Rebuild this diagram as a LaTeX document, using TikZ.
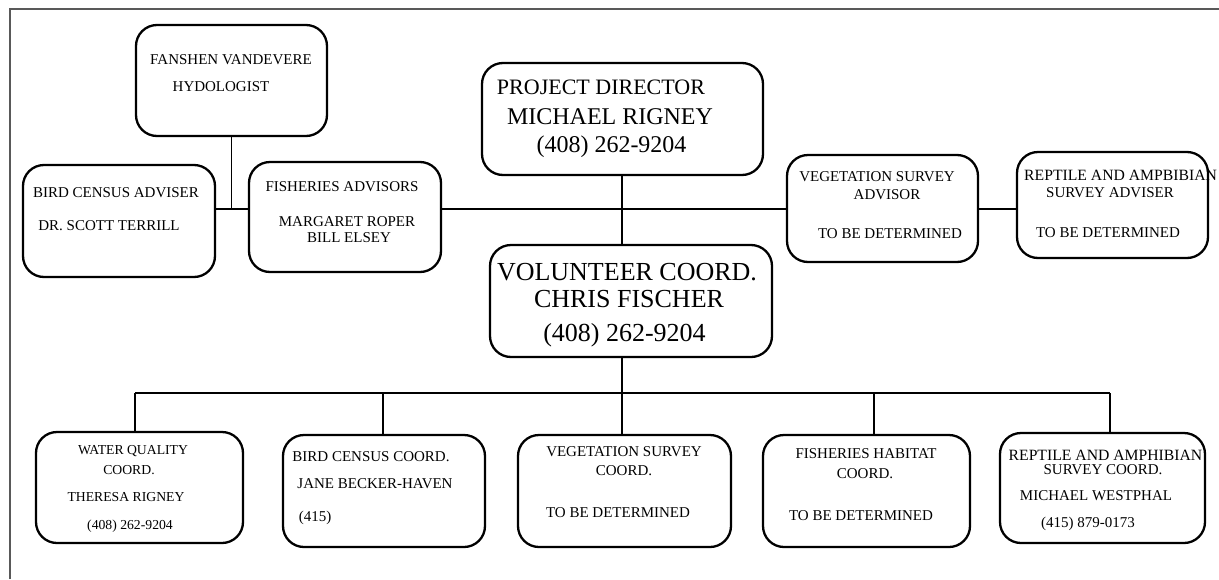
\documentclass[tikz,border=0pt]{standalone}
\usepackage{fontspec}
\setmainfont{Liberation Serif}
\tikzset{
	box/.style={draw, line width=2.3pt, rounded corners=21pt, inner sep=0pt},
	conn/.style={line width=2pt},
	thinconn/.style={line width=1pt},
	frame/.style={draw=black!65, line width=1.2pt},
	sm/.style={inner sep=0pt, text height=9.9pt, text depth=0pt, font=\fontsize{15}{18}\selectfont},
	smw/.style={inner sep=0pt, text height=10.4pt, text depth=0pt, font=\fontsize{15.7}{19}\selectfont},
	wq/.style={inner sep=0pt, text height=9.1pt, text depth=0pt, font=\fontsize{13.7}{16}\selectfont},
	pda/.style={inner sep=0pt, text height=14.6pt, text depth=0pt, font=\fontsize{22}{26}\selectfont},
	pdb/.style={inner sep=0pt, text height=15.9pt, text depth=0pt, font=\fontsize{24}{28}\selectfont},
	big/.style={inner sep=0pt, text height=17.2pt, text depth=0pt, font=\fontsize{26}{30}\selectfont}
}
\begin{document}
\begin{tikzpicture}[x=1pt,y=-1pt]
		\useasboundingbox (0,0) rectangle (1219,579);
		\draw[frame] (10,579) -- (10,9) -- (1219,9);
		\node[box, minimum width=191, minimum height=111] (fanshen) at (231.5,80.5) {};
		\node[box, minimum width=192, minimum height=112] (birdadv) at (119,221) {};
		\node[box, minimum width=192, minimum height=110] (fishadv) at (345,217) {};
		\node[box, minimum width=281, minimum height=112] (director) at (622.5,119) {};
		\node[box, minimum width=191, minimum height=107] (vegadv) at (882.5,208.5) {};
		\node[box, minimum width=191, minimum height=106] (reptadv) at (1112.5,205) {};
		\node[box, minimum width=282, minimum height=112] (volunteer) at (631,301) {};
		\node[box, minimum width=207, minimum height=111] (water) at (139.5,487.5) {};
		\node[box, minimum width=202, minimum height=112] (birdcoord) at (384,491) {};
		\node[box, minimum width=213, minimum height=112] (vegcoord) at (624.5,491) {};
		\node[box, minimum width=207, minimum height=112] (fishcoord) at (866.5,491) {};
		\node[box, minimum width=205, minimum height=110] (reptcoord) at (1102.5,488) {};
		\coordinate (hub) at (231,209);
		\coordinate (bus) at (622,393);
		\coordinate (busL) at (135,393);
		\coordinate (busR) at (1110,393);
		\draw[thinconn] (fanshen.south -| hub) -- (hub);
		\draw[conn] (birdadv.east |- hub) -- (fishadv.west |- hub);
		\draw[conn] (fishadv.east |- hub) -- (vegadv.west |- hub);
		\draw[conn] (vegadv.east |- hub) -- (reptadv.west |- hub);
		\draw[conn] (director.south -| bus) -- (volunteer.north -| bus);
		\draw[conn] (volunteer.south -| bus) -- (bus);
		\draw[conn] (busL) -- (busR);
		\foreach \b/\x in {water/135, birdcoord/383, vegcoord/622, fishcoord/874, reptcoord/1110}
			\draw[conn] (\x,393) -- (\b.north -| \x,0);
		\foreach \n/\x/\y/\t in {fan1/231/60/FANSHEN VANDEVERE, fan2/221/87/HYDOLOGIST,
			ba1/116/193/BIRD CENSUS ADVISER, ba2/109/226/DR. SCOTT TERRILL,
			fa1/342/187/FISHERIES ADVISORS, fa2/347/222/MARGARET ROPER, fa3/349/238/BILL ELSEY,
			va1/877/177/VEGETATION SURVEY, va2/887/195/ADVISOR, va3/890/234/TO BE DETERMINED,
			ra2/1110/193/SURVEY ADVISER, ra3/1108/233/TO BE DETERMINED,
			bc1/371/457/BIRD CENSUS COORD., bc2/375/484/JANE BECKER-HAVEN, bc3/315/517/(415),
			vc1/624/452/VEGETATION SURVEY, vc2/624/471/COORD., vc3/618/513/TO BE DETERMINED,
			fc1/866/454/FISHERIES HABITAT, fc2/865/474/COORD., fc3/861/516/TO BE DETERMINED,
			rc2/1103/470/SURVEY COORD.,
			rc3/1096/496/MICHAEL WESTPHAL, rc4/1088/523/(415) 879-0173}
			\node[sm] (\n) at (\x,\y) {\t};
		\node[smw, anchor=west] (ra1) at (1024,175) {REPTILE AND AMPBIBIAN};
		\node[smw] (rc1) at (1105.5,455) {REPTILE AND AMPHIBIAN};
		\foreach \n/\x/\y/\t in {wc1/133/450/WATER QUALITY, wc2/129/470/COORD.,
			wc3/126/497/THERESA RIGNEY, wc4/130/525/(408) 262-9204}
			\node[wq] (\n) at (\x,\y) {\t};
		\node[pda] (pd1) at (601,87) {PROJECT DIRECTOR};
		\node[pdb] (pd2) at (610,117) {MICHAEL RIGNEY};
		\node[pdb] (pd3) at (611.5,145) {(408) 262-9204};
		\node[big] (vo1) at (627,272) {VOLUNTEER COORD.};
		\node[big] (vo2) at (629,299) {CHRIS FISCHER};
		\node[big] (vo3) at (624.5,333) {(408) 262-9204};
	    \end{tikzpicture}
\end{document}
